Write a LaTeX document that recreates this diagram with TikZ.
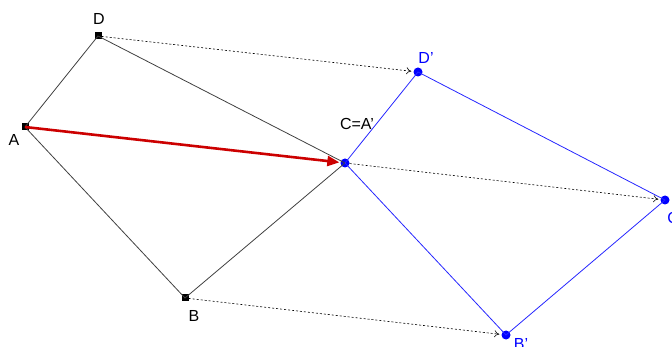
\documentclass[tikz,border=0pt]{standalone}
\usepackage{fontspec}
\setmainfont{Liberation Sans}
\usetikzlibrary{arrows.meta, positioning}

\begin{document}
\begin{tikzpicture}[
    x=1pt, y=-1pt,
    pt/.style={rectangle, fill=black, inner sep=0pt, minimum size=7pt},
    bpt/.style={circle, fill=blue, inner sep=0pt, minimum size=9pt},
    lab/.style={font=\fontsize{16}{16}\selectfont},
    side/.style={draw=black!75, line width=0.8pt},
    bside/.style={draw=blue!85, line width=0.8pt},
    trans/.style={dashed, dash pattern=on 2pt off 2pt, line width=0.6pt, -{To[length=5pt,width=7pt]}, shorten >=2pt},
    vec/.style={draw=red!80!black, line width=2.6pt, -{Triangle[length=12pt,width=10pt]}, shorten >=1pt}
]
\useasboundingbox (0,0) rectangle (672,347);
% original square
\node[pt] (A) at (25,127) {};
\node[pt] (D) at (98,36) {};
\node[pt] (B) at (185,298) {};
% image
\node[bpt] (C) at (345,163) {};
\node[bpt] (Dp) at (418,72) {};
\node[bpt] (Bp) at (506,335) {};
\node[bpt] (Cp) at (665,200) {};
% labels
\node[lab] at (14,140) {A};
\node[lab] at (99,19) {D};
\node[lab] at (194,316) {B};
\node[lab] at (357,124) {C=A'};
\node[lab, text=blue] at (426,58) {D'};
\node[lab, text=blue] at (521,344) {B'};
\node[lab, text=blue] at (675,218) {C'};
% sides
\draw[side] (A.center) -- (D.center) -- (C.center) -- (B.center) -- (A.center);
\draw[bside] (C.center) -- (Dp.center) -- (Cp.center) -- (Bp.center) -- (C.center);
% translation
\draw[trans] (D) -- (Dp);
\draw[trans] (B) -- (Bp);
\draw[trans] (C) -- (Cp);
\draw[vec] (A.center) -- (C);
\end{tikzpicture}
\end{document}
